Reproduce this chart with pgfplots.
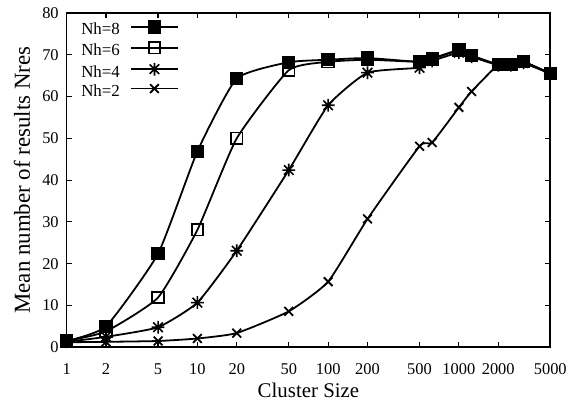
\documentclass[border=0pt]{standalone}
\usepackage{fontspec}
\setmainfont{Liberation Serif}
\usepackage{pgfplots}
\pgfplotsset{compat=1.18}

% gnuplot-style star: plus overlaid with a cross
\pgfdeclareplotmark{gpstar}{%
  \pgfpathmoveto{\pgfqpoint{-\pgfplotmarksize}{0pt}}%
  \pgfpathlineto{\pgfqpoint{\pgfplotmarksize}{0pt}}%
  \pgfpathmoveto{\pgfqpoint{0pt}{-\pgfplotmarksize}}%
  \pgfpathlineto{\pgfqpoint{0pt}{\pgfplotmarksize}}%
  \pgfpathmoveto{\pgfqpoint{-0.75\pgfplotmarksize}{-0.75\pgfplotmarksize}}%
  \pgfpathlineto{\pgfqpoint{0.75\pgfplotmarksize}{0.75\pgfplotmarksize}}%
  \pgfpathmoveto{\pgfqpoint{-0.75\pgfplotmarksize}{0.75\pgfplotmarksize}}%
  \pgfpathlineto{\pgfqpoint{0.75\pgfplotmarksize}{-0.75\pgfplotmarksize}}%
  \pgfusepathqstroke}

\begin{document}
\begin{tikzpicture}
\begin{axis}[
  scale only axis,
  width=486pt, height=336pt,
  xmode=log,
  xmin=1, xmax=5000,
  ymin=0, ymax=80,
  xtick={1,2,5,10,20,50,100,200,500,1000,2000,5000},
  xticklabels={1,2,5,10,20,50,100,200,500,1000,2000,5000},
  minor xtick={},
  ytick={0,10,...,80},
  /pgf/number format/assume math mode=true,
  tick label style={font=\fontsize{16.5}{18}\selectfont},
  xticklabel style={anchor=base, yshift=-27pt},
  yticklabel style={anchor=east, xshift=-4.5pt},
  xlabel={Cluster Size},
  ylabel={Mean number of results Nres},
  xlabel style={font=\fontsize{21}{24}\selectfont, at={(axis description cs:0.5,-0.149)}, anchor=base},
  ylabel style={font=\fontsize{23}{26}\selectfont, at={(axis description cs:-0.0761,0.5)}, anchor=base},
  tick align=inside,
  major tick length=5pt,
  axis line style={line width=1.6pt},
  every tick/.style={black, line width=1.2pt},
  clip=false,
  reverse legend,
  legend plot pos=right,
  legend cell align=right,
  legend style={draw=none, fill=none, at={(0.0302,0.9753)}, anchor=north west,
    inner sep=0pt, outer sep=0pt,
    font=\fontsize{17}{19}\selectfont, row sep=3.1pt,
    nodes={inner sep=0pt, text height=12pt, text depth=4pt}},
  legend image code/.code={%
    \path (0pt,0pt) (1pt,0pt);
    \draw[mark repeat=2, mark phase=2] plot coordinates {(10.3pt,4pt)(33.8pt,4pt)(57.3pt,4pt)};},
  every axis plot/.append style={black, line width=1.8pt, smooth, tension=0.3},
]
\addplot[mark=x, mark size=6.2pt, mark options={line width=1.8pt}] coordinates {
  (1,1.2)(2,1.3)(5,1.5)(10,2.1)(20,3.4)(50,8.6)(100,15.7)(200,30.7)
  (500,48.1)(625,49.0)(1000,57.4)(1250,61.2)(2000,67.6)(2500,67.6)(3125,68.0)(5000,65.5)
};
\addlegendentry{Nh=2}
\addplot[mark=gpstar, mark size=6.4pt, mark options={line width=1.6pt}] coordinates {
  (1,1.3)(2,2.5)(5,4.8)(10,10.7)(20,23.1)(50,42.4)(100,57.9)(200,65.7)
  (500,66.9)(625,68.5)(1000,70.5)(1250,69.5)(2000,67.5)(2500,67.5)(3125,68.0)(5000,65.5)
};
\addlegendentry{Nh=4}
\addplot[mark=square, mark size=5.8pt, mark options={line width=1.8pt, fill=white}] coordinates {
  (1,1.5)(2,3.8)(5,11.9)(10,28.1)(20,50.0)(50,66.3)(100,68.3)(200,68.8)
  (500,68.3)(625,69.0)(1000,71.0)(1250,69.8)(2000,67.6)(2500,67.6)(3125,68.3)(5000,65.5)
};
\addlegendentry{Nh=6}
\addplot[mark=square*, mark size=5.8pt] coordinates {
  (1,1.5)(2,5.0)(5,22.4)(10,46.9)(20,64.3)(50,68.2)(100,68.8)(200,69.2)
  (500,68.3)(625,69.1)(1000,71.1)(1250,69.8)(2000,67.6)(2500,67.6)(3125,68.3)(5000,65.5)
};
\addlegendentry{Nh=8}
\coordinate (sw) at (rel axis cs:0,0);
\coordinate (ne) at (rel axis cs:1,1);
\end{axis}
\useasboundingbox ([shift={(-67pt,-57pt)}]sw) rectangle ([shift={(17pt,13pt)}]ne);
\end{tikzpicture}
\end{document}
